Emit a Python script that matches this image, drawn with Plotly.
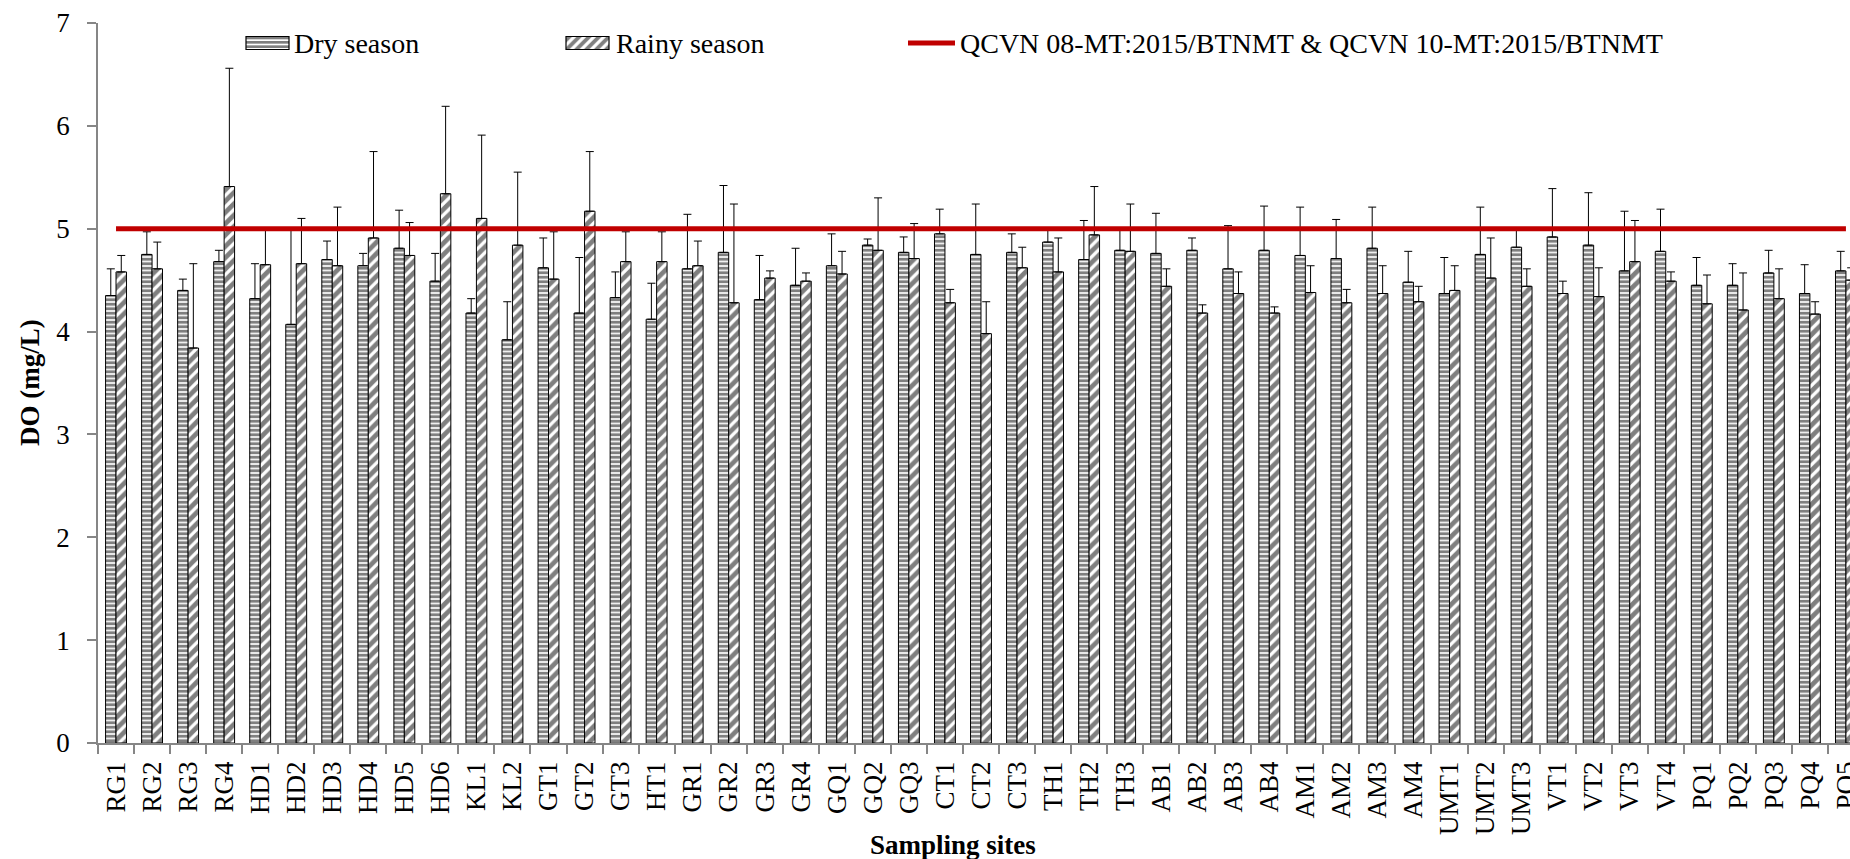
import plotly.graph_objects as go

sites = ["RG1", "RG2", "RG3", "RG4", "HD1", "HD2", "HD3", "HD4", "HD5", "HD6",
         "KL1", "KL2", "GT1", "GT2", "GT3", "HT1", "GR1", "GR2", "GR3", "GR4",
         "GQ1", "GQ2", "GQ3", "CT1", "CT2", "CT3", "TH1", "TH2", "TH3",
         "AB1", "AB2", "AB3", "AB4", "AM1", "AM2", "AM3", "AM4",
         "UMT1", "UMT2", "UMT3", "VT1", "VT2", "VT3", "VT4",
         "PQ1", "PQ2", "PQ3", "PQ4", "PQ5"]

dry = [4.35, 4.75, 4.40, 4.68, 4.32, 4.07, 4.70, 4.64, 4.81, 4.49,
       4.18, 3.92, 4.62, 4.18, 4.33, 4.12, 4.61, 4.77, 4.31, 4.45,
       4.64, 4.84, 4.77, 4.95, 4.75, 4.77, 4.87, 4.70, 4.79,
       4.76, 4.79, 4.61, 4.79, 4.74, 4.71, 4.81, 4.48,
       4.37, 4.75, 4.82, 4.92, 4.84, 4.59, 4.78,
       4.45, 4.45, 4.57, 4.37, 4.59]
dry_sd = [0.26, 0.22, 0.11, 0.11, 0.34, 0.92, 0.18, 0.12, 0.37, 0.27,
          0.14, 0.37, 0.29, 0.54, 0.25, 0.35, 0.53, 0.65, 0.43, 0.36,
          0.31, 0.06, 0.15, 0.24, 0.49, 0.18, 0.12, 0.38, 0.20,
          0.39, 0.12, 0.42, 0.43, 0.47, 0.38, 0.40, 0.30,
          0.35, 0.46, 0.17, 0.47, 0.51, 0.58, 0.41,
          0.27, 0.21, 0.22, 0.28, 0.19]

rainy = [4.58, 4.61, 3.84, 5.41, 4.65, 4.66, 4.64, 4.91, 4.74, 5.34,
         5.10, 4.84, 4.51, 5.17, 4.68, 4.68, 4.64, 4.28, 4.52, 4.49,
         4.56, 4.79, 4.71, 4.28, 3.98, 4.62, 4.58, 4.94, 4.78,
         4.44, 4.18, 4.37, 4.18, 4.38, 4.28, 4.37, 4.29,
         4.40, 4.52, 4.44, 4.37, 4.34, 4.68, 4.49,
         4.27, 4.21, 4.32, 4.17, 4.50]
rainy_sd = [0.16, 0.26, 0.82, 1.15, 0.34, 0.44, 0.57, 0.84, 0.32, 0.85,
            0.81, 0.71, 0.46, 0.58, 0.29, 0.29, 0.24, 0.96, 0.07, 0.08,
            0.22, 0.51, 0.34, 0.13, 0.31, 0.20, 0.33, 0.47, 0.46,
            0.17, 0.08, 0.21, 0.06, 0.26, 0.13, 0.27, 0.15,
            0.24, 0.39, 0.17, 0.12, 0.28, 0.40, 0.09,
            0.28, 0.36, 0.29, 0.12, 0.12]

limit_value = 5
series_names = ["Dry season", "Rainy season",
                "QCVN 08-MT:2015/BTNMT & QCVN 10-MT:2015/BTNMT"]

FONT = "Liberation Serif"
W, H = 1850, 859
ML, MR, MT, MB = 98, 0, 23, 116
plot_w = W - ML - MR
plot_h = H - MT - MB
cat_px = 36.04

DRY_PAT = dict(shape="-", size=4.5, solidity=0.65)
RAIN_PAT = dict(shape="/", size=8, solidity=0.6)
RED = "#C00000"

fig = go.Figure()
fig.add_trace(go.Bar(
    x=sites, y=dry, name=series_names[0], showlegend=False,
    marker=dict(color="white", line=dict(color="black", width=1),
                pattern=dict(**DRY_PAT, fgcolor="black", bgcolor="white", fillmode="overlay")),
    error_y=dict(type="data", array=dry_sd, arrayminus=[0] * len(dry_sd),
                 symmetric=False, color="black", thickness=1, width=4),
))
fig.add_trace(go.Bar(
    x=sites, y=rainy, name=series_names[1], showlegend=False,
    marker=dict(color="white", line=dict(color="black", width=1),
                pattern=dict(**RAIN_PAT, fgcolor="black", bgcolor="white", fillmode="overlay")),
    error_y=dict(type="data", array=rainy_sd, arrayminus=[0] * len(rainy_sd),
                 symmetric=False, color="black", thickness=1, width=4),
))
fig.add_trace(go.Scatter(
    x=sites, y=[limit_value] * len(sites), name=series_names[2], showlegend=False,
    mode="lines", line=dict(color=RED, width=5),
))

# ---- legend (drawn on a pixel-unit overlay axis) ----
LEG_Y = 43          # legend row centre, px from top
sw_left = [246, 566]  # swatch left edges (px)
sw_w, sw_h = 43, 13
fig.add_trace(go.Bar(
    x=[l + sw_w / 2 for l in sw_left], y=[sw_h, sw_h],
    base=[LEG_Y - sw_h / 2] * 2, width=[sw_w, sw_w],
    xaxis="x2", yaxis="y2", showlegend=False, hoverinfo="skip",
    marker=dict(color="white", line=dict(color="black", width=1.2),
                pattern=dict(shape=[DRY_PAT["shape"], RAIN_PAT["shape"]],
                             size=[4.3, 7], solidity=[0.6, 0.55],
                             fgcolor="black", bgcolor="white", fillmode="overlay")),
))
fig.add_trace(go.Scatter(
    x=[908, 955], y=[LEG_Y, LEG_Y], xaxis="x2", yaxis="y2", mode="lines",
    line=dict(color=RED, width=5), showlegend=False, hoverinfo="skip",
))
legend_text_x = [292, 614, 958]

TXT = dict(family="Liberation Serif, Times New Roman, serif", size=27, color="black")
LEGTXT = dict(TXT, size=28)
annotations = [
    dict(text=name, xref="x2", yref="y2", x=tx, y=LEG_Y, xanchor="left", yanchor="middle",
         showarrow=False, font=LEGTXT)
    for name, tx in zip(series_names, legend_text_x)
]
annotations += [
    dict(text="<b>DO (mg/L)</b>", xref="paper", yref="paper",
         x=(30 - ML) / plot_w, y=0.5, xanchor="center", yanchor="middle",
         textangle=-90, showarrow=False, font=TXT),
    dict(text="<b>Sampling sites</b>", xref="paper", yref="paper",
         x=(953 - ML) / plot_w, y=-(845 - (H - MB)) / plot_h,
         xanchor="center", yanchor="middle",
         showarrow=False, font=TXT),
]

fig.update_layout(
    template="none",
    width=W, height=H,
    margin=dict(l=ML, r=MR, t=MT, b=MB, autoexpand=False),
    paper_bgcolor="white", plot_bgcolor="white",
    font=dict(family=FONT, size=27, color="black"),
    barmode="group", bargap=0.42, bargroupgap=0,
    showlegend=False,
    xaxis=dict(
        type="category", range=[-0.5, -0.5 + plot_w / cat_px],
        showline=True, linecolor="#868686", linewidth=1.5,
        ticks="outside", tickson="boundaries", ticklen=9, tickcolor="#868686", tickwidth=1.5,
        tickangle=-90, tickfont=dict(family=FONT, size=27, color="black"),
        showgrid=False, zeroline=False, ticklabelstandoff=6,
    ),
    yaxis=dict(
        range=[0, 7], dtick=1, tick0=0,
        showline=True, linecolor="#868686", linewidth=1.5,
        ticks="outside", ticklen=9, tickcolor="#868686", tickwidth=1.5,
        tickfont=dict(family=FONT, size=27, color="black"),
        showgrid=False, zeroline=False, ticklabelstandoff=12,
    ),
    xaxis2=dict(overlaying="x", anchor="y2", range=[ML, W - MR], visible=False,
                showgrid=False, zeroline=False, fixedrange=True),
    yaxis2=dict(overlaying="y", anchor="x2", range=[H - MB, MT], visible=False,
                showgrid=False, zeroline=False, fixedrange=True),
    annotations=annotations,
)

fig.write_html("out.html")
